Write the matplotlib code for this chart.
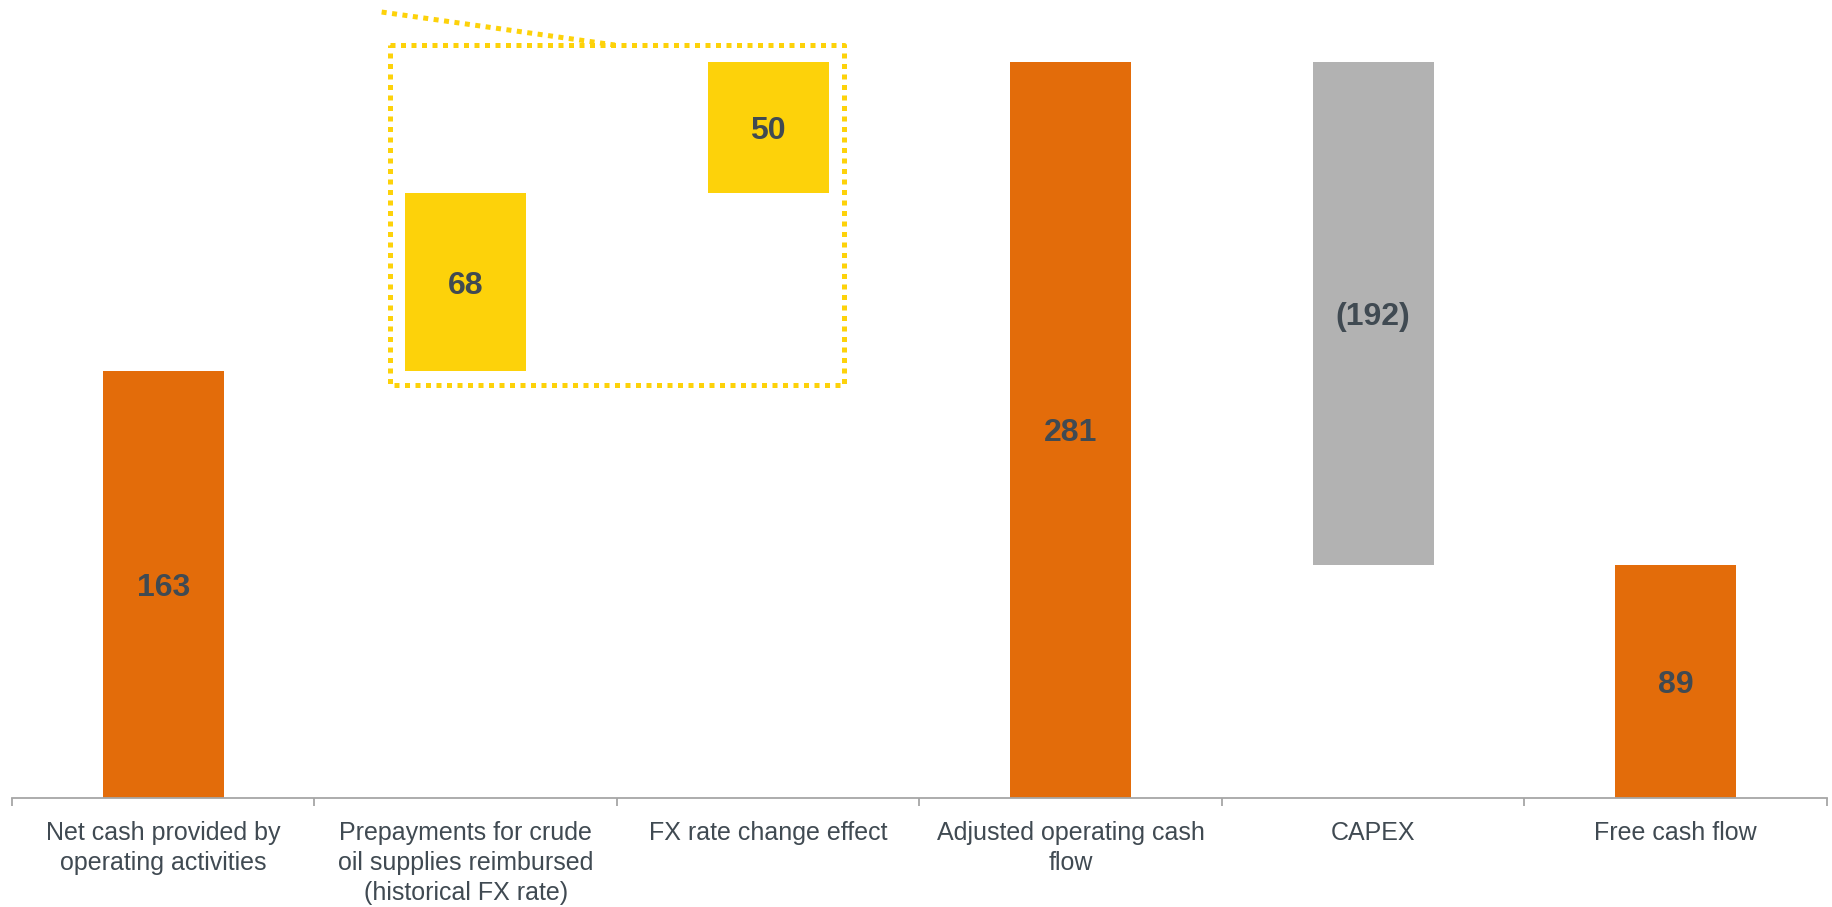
import matplotlib
matplotlib.use("Agg")
import matplotlib.pyplot as plt

# Cash flow bridge (waterfall)
categories = [
    "Net cash provided by\noperating activities",
    "Prepayments for crude\noil supplies reimbursed\n(historical FX rate)",
    "FX rate change effect",
    "Adjusted operating cash\nflow",
    "CAPEX",
    "Free cash flow",
]
values = [163, 68, 50, 281, -192, 89]
is_total = [True, False, False, True, False, True]
bar_colors = ["#E36C0A", "#FDD20A", "#FDD20A", "#E36C0A", "#B2B2B2", "#E36C0A"]

text_color = "#404A52"
axis_color = "#A6A6A6"
highlight = "#FDD20A"

plt.rcParams["font.family"] = ["Liberation Sans", "DejaVu Sans"]

fig = plt.figure(figsize=(18.33, 9.07), dpi=100)
ax = fig.add_axes([12 / 1833, 0.1205, 1815 / 1833, 0.8795])

# bottoms and heights of the floating bars
bottoms, heights = [], []
running = 0
for v, tot in zip(values, is_total):
    if tot:
        bottoms.append(0)
        heights.append(v)
        running = v
    else:
        if v >= 0:
            bottoms.append(running)
            heights.append(v)
        else:
            bottoms.append(running + v)
            heights.append(-v)
        running += v

x = list(range(len(categories)))
ax.bar(x, heights, bottom=bottoms, width=0.4, color=bar_colors, linewidth=0, zorder=2)

for xi, b, h, v in zip(x, bottoms, heights, values):
    label = f"({abs(v)})" if v < 0 else f"{v}"
    ax.text(xi, b + h / 2, label, ha="center", va="center_baseline", fontsize=23,
            fontweight="bold", color=text_color, zorder=3)

# dotted highlight around the two reimbursement components
dot_style = dict(color=highlight, linewidth=3.6, linestyle=(0, (1, 1.1)),
                 dash_capstyle="butt", clip_on=False, zorder=4)
bx0, bx1, by0, by1 = 0.75, 2.25, 157.7, 287.6
ax.plot([bx0, bx1, bx1, bx0, bx0], [by1, by1, by0, by0, by1], **dot_style)
ax.plot([0.722, 1.493], [300.2, 287.6], **dot_style)

ax.set_xlim(-0.5, 5.5)
ax.set_ylim(0, 304.8)

for side in ["top", "right", "left"]:
    ax.spines[side].set_visible(False)
ax.spines["bottom"].set_color(axis_color)
ax.spines["bottom"].set_linewidth(1.3)
ax.set_yticks([])

ax.set_xticks(x)
ax.set_xticklabels(categories, fontsize=18, color=text_color, linespacing=1.32)
ax.tick_params(axis="x", which="major", length=0, pad=17)
ax.set_xticks([i - 0.5 for i in range(len(categories) + 1)], minor=True)
ax.tick_params(axis="x", which="minor", length=6, width=1.3, color=axis_color, direction="out")

fig.savefig("out.png", dpi=100)
